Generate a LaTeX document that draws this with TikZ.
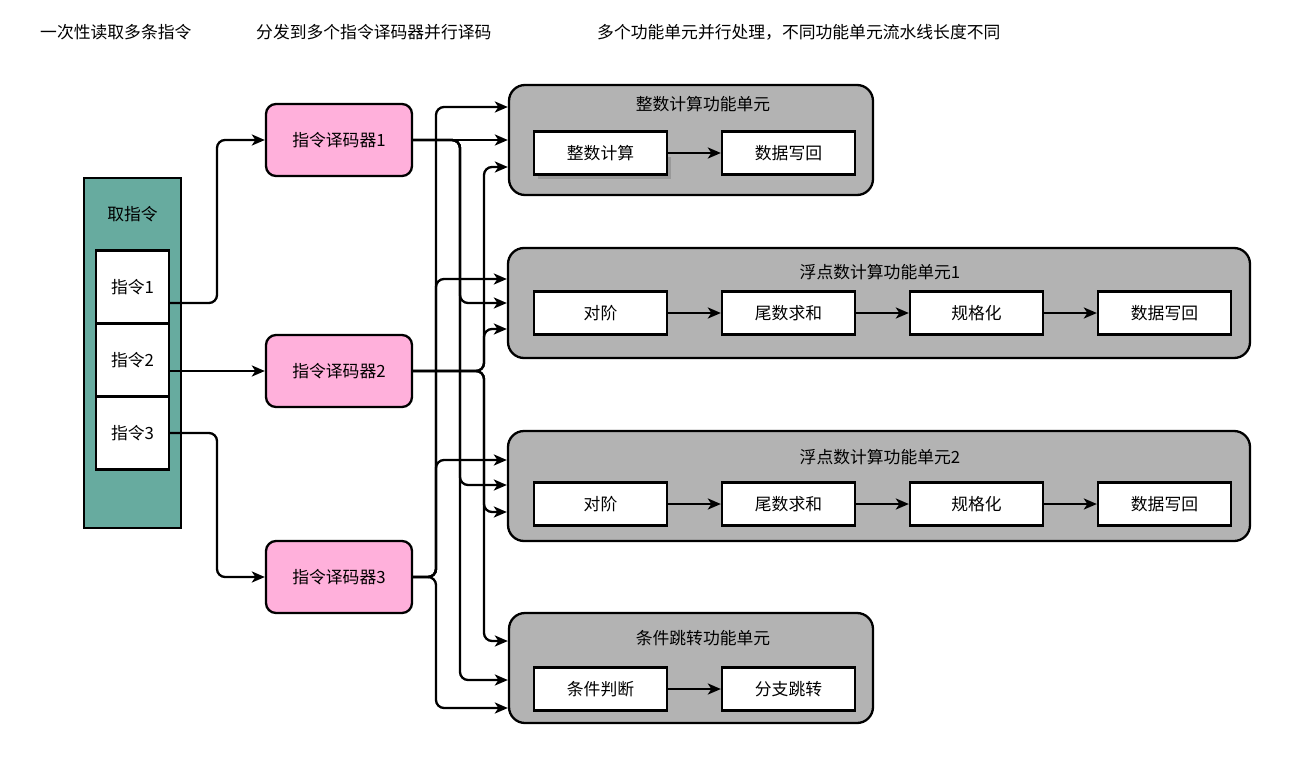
\documentclass[tikz,border=0pt]{standalone}
\usepackage{fontspec}
\setmainfont{Noto Sans CJK SC}
\usetikzlibrary{arrows.meta,positioning,calc}
\definecolor{teal1}{HTML}{67AB9F}
\definecolor{pink1}{HTML}{FFB0DB}
\definecolor{gray1}{HTML}{B3B3B3}
\begin{document}
\begin{tikzpicture}[x=1pt,y=-1pt,
  font=\fontsize{16.8}{20}\selectfont,
  lw/.style={line width=2.3pt},
  arr/.style={lw,rounded corners=8pt,-{Stealth[length=13pt,width=11pt,inset=3.5pt]}},
  link/.style={lw,rounded corners=8pt},
  box/.style={draw,lw,fill=white,minimum width=133pt,minimum height=43pt,inner sep=0pt},
  ibox/.style={draw,lw,fill=white,minimum width=73pt,minimum height=73pt,inner sep=0pt},
  dec/.style={draw,lw,fill=pink1,rounded corners=10pt,minimum width=146pt,minimum height=72pt,inner sep=0pt},
  unit/.style={draw,lw,fill=gray1,rounded corners=16pt,inner sep=0pt},
  lbl/.style={inner sep=0pt,anchor=west}]
\useasboundingbox (0,0) rectangle (1316,768);
% top labels
\node[lbl] (t1) at (40,32) {一次性读取多条指令};
\node[lbl] (t2) at (256,32) {分发到多个指令译码器并行译码};
\node[lbl] (t3) at (597,32) {多个功能单元并行处理，不同功能单元流水线长度不同};
% fetch
\node[draw,lw,fill=teal1,minimum width=97pt,minimum height=350pt,inner sep=0pt] (fetch) at (132.5,353) {};
\node (fetcht) at (132.5,214) {取指令};
\node[ibox] (i1) at (132.5,287) {指令1};
\node[ibox] (i2) at (132.5,360) {指令2};
\node[ibox] (i3) at (132.5,433) {指令3};
% decoders
\node[dec] (d1) at (339,140) {指令译码器1};
\node[dec] (d2) at (339,371) {指令译码器2};
\node[dec] (d3) at (339,577) {指令译码器3};
% units
\node[unit,minimum width=364pt,minimum height=110pt] (u1) at (691,140) {};
\node[unit,minimum width=742pt,minimum height=110pt] (u2) at (879,303) {};
\node[unit,minimum width=742pt,minimum height=110pt] (u3) at (879,486) {};
\node[unit,minimum width=364pt,minimum height=110pt] (u4) at (691,668) {};
\node (u1t) at (703,104) {整数计算功能单元};
\node (u2t) at (880,272) {浮点数计算功能单元1};
\node (u3t) at (880,457) {浮点数计算功能单元2};
\node (u4t) at (703,638) {条件跳转功能单元};
% unit 1 stages
\fill[black!40] (538,157) rectangle (671,179);
\node[box] (a1) at (600.5,153) {整数计算};
\node[box] (a2) at (788.5,153) {数据写回};
\draw[arr] (a1) -- (a2);
% unit 2 stages
\node[box] (b1) at (600.5,313) {对阶};
\node[box] (b2) at (788.5,313) {尾数求和};
\node[box] (b3) at (976.5,313) {规格化};
\node[box] (b4) at (1164.5,313) {数据写回};
\draw[arr] (b1) -- (b2);
\draw[arr] (b2) -- (b3);
\draw[arr] (b3) -- (b4);
% unit 3 stages
\node[box] (c1) at (600.5,504) {对阶};
\node[box] (c2) at (788.5,504) {尾数求和};
\node[box] (c3) at (976.5,504) {规格化};
\node[box] (c4) at (1164.5,504) {数据写回};
\draw[arr] (c1) -- (c2);
\draw[arr] (c2) -- (c3);
\draw[arr] (c3) -- (c4);
% unit 4 stages
\node[box] (e1) at (600.5,689) {条件判断};
\node[box] (e2) at (788.5,689) {分支跳转};
\draw[arr] (e1) -- (e2);
% fetch -> decoders
\draw[arr] (i1.east |- 0,303) -| (217,140) -- (d1.west);
\draw[arr] (i2.east |- 0,371) -- (d2.west);
\draw[arr] (i3.east |- 0,433) -| (217,577) -- (d3.west);
% decoder 1 (lane x=460)
\draw[arr] (d1.east) -- (u1.west |- 0,140);
\draw[arr] (d1.east) -| (460,303) -- (u2.west |- 0,303);
\draw[arr] (d1.east) -| (460,485) -- (u3.west |- 0,485);
\draw[arr] (d1.east) -| (460,680) -- (u4.west |- 0,680);
% decoder 2 (lane x=484)
\draw[arr] (d2.east) -| (484,167) -- (u1.west |- 0,167);
\draw[arr] (d2.east) -| (484,329) -- (u2.west |- 0,329);
\draw[arr] (d2.east) -| (484,512) -- (u3.west |- 0,512);
\draw[arr] (d2.east) -| (484,641) -- (u4.west |- 0,641);
% decoder 3 (lane x=436)
\draw[arr] (d3.east) -| (436,107) -- (u1.west |- 0,107);
\draw[arr] (d3.east) -| (436,279) -- (u2.west |- 0,279);
\draw[arr] (d3.east) -| (436,460) -- (u3.west |- 0,460);
\draw[arr] (d3.east) -| (436,708) -- (u4.west |- 0,708);
\end{tikzpicture}
\end{document}
